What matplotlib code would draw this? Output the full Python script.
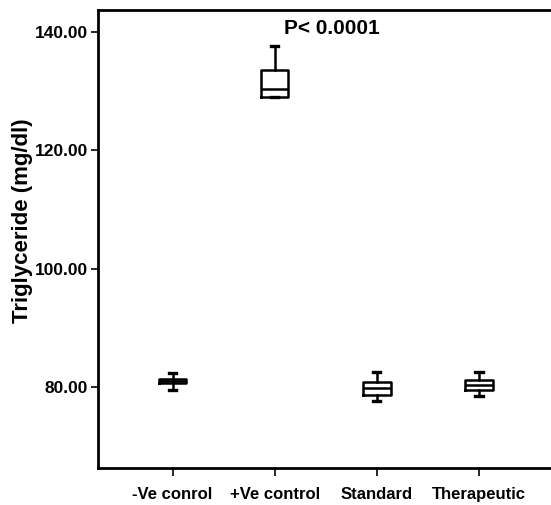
import matplotlib
matplotlib.use("Agg")
import matplotlib.pyplot as plt

plt.rcParams['font.family'] = ['Liberation Sans', 'DejaVu Sans']

categories = ["-Ve conrol", "+Ve control", "Standard", "Therapeutic"]
whislo = [79.4, 129.1, 77.5, 78.4]
q1 = [80.6, 129.1, 78.6, 79.4]
med = [80.9, 130.4, 79.7, 80.3]
q3 = [81.25, 133.6, 80.8, 81.2]
whishi = [82.4, 137.7, 82.5, 82.5]
yticks = [80, 100, 120, 140]
ytick_labels = ["80.00", "100.00", "120.00", "140.00"]
annotation = "P< 0.0001"
ylabel = "Triglyceride (mg/dl)"

W, H = 551, 505
fig = plt.figure(figsize=(W / 100, H / 100), dpi=100)
left, right, top, bottom = 98, 553.5, 10, 468
ax = fig.add_axes([left / W, (H - bottom) / H, (right - left) / W, (bottom - top) / H])

stats = []
for i in range(len(categories)):
    stats.append(dict(whislo=whislo[i], q1=q1[i], med=med[i], q3=q3[i],
                      whishi=whishi[i], fliers=[], label=categories[i]))

lw = 1.8
ax.bxp(stats, positions=range(1, len(categories) + 1), widths=0.27,
       capwidths=0.07, showfliers=False,
       boxprops=dict(color='black', linewidth=lw),
       medianprops=dict(color='black', linewidth=lw),
       whiskerprops=dict(color='black', linewidth=lw),
       capprops=dict(color='black', linewidth=2.4))

ax.set_xlim(0.27, 4.73)
ax.set_ylim(66.23, 143.78)
ax.set_yticks(yticks)
ax.set_yticklabels(ytick_labels, fontsize=12.5, fontweight='bold')
ax.set_xticks(range(1, len(categories) + 1))
ax.set_xticklabels(categories, fontsize=12, fontweight='bold')
ax.tick_params(axis='both', direction='out', length=5, width=1.2)
ax.tick_params(axis='x', length=6, pad=8)
ax.tick_params(axis='y', pad=2)
ax.set_ylabel(ylabel, fontsize=16, fontweight='bold', va='center')
ax.yaxis.set_label_coords(-0.165, 0.54)
for s in ax.spines.values():
    s.set_linewidth(2.0)

ax.text(2.56, 140.73, annotation, ha='center', va='center',
        fontsize=15, fontweight='bold')

fig.savefig("out.png", dpi=100)
